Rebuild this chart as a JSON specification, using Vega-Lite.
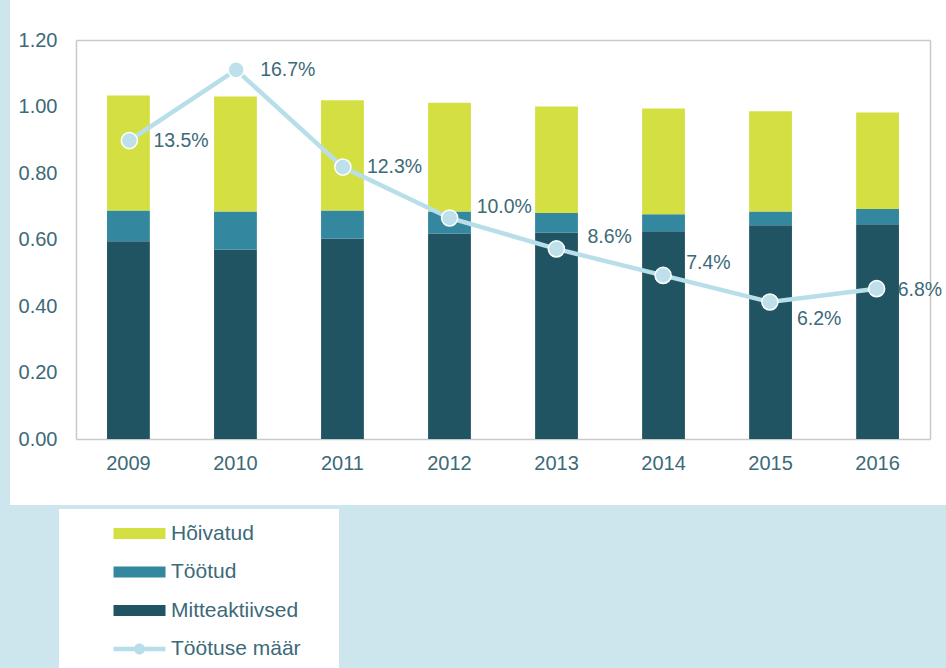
{
  "$schema": "https://vega.github.io/schema/vega-lite/v6.json",
  "width": 854,
  "height": 399,
  "autosize": {"type": "none"},
  "padding": {"left": 76, "top": 40, "right": 16, "bottom": 229},
  "background": "#cde6ed",
  "config": {
    "font": "Liberation Sans",
    "view": {"fill": "#ffffff", "stroke": "#ffffff", "strokeWidth": 132},
    "axis": {
      "labelFont": "Liberation Sans",
      "labelFontSize": 20,
      "labelColor": "#3c6a78",
      "ticks": false,
      "tickSize": 0,
      "grid": false,
      "domainColor": "#c9c9c9",
      "domainWidth": 1.5,
      "title": null
    }
  },
  "datasets": {
    "bars": [
      {"year": "2009", "series": "Mitteaktiivsed", "value": 0.595},
      {"year": "2009", "series": "Töötud", "value": 0.092},
      {"year": "2009", "series": "Hõivatud", "value": 0.346},
      {"year": "2010", "series": "Mitteaktiivsed", "value": 0.570},
      {"year": "2010", "series": "Töötud", "value": 0.114},
      {"year": "2010", "series": "Hõivatud", "value": 0.346},
      {"year": "2011", "series": "Mitteaktiivsed", "value": 0.603},
      {"year": "2011", "series": "Töötud", "value": 0.084},
      {"year": "2011", "series": "Hõivatud", "value": 0.332},
      {"year": "2012", "series": "Mitteaktiivsed", "value": 0.618},
      {"year": "2012", "series": "Töötud", "value": 0.066},
      {"year": "2012", "series": "Hõivatud", "value": 0.327},
      {"year": "2013", "series": "Mitteaktiivsed", "value": 0.621},
      {"year": "2013", "series": "Töötud", "value": 0.059},
      {"year": "2013", "series": "Hõivatud", "value": 0.320},
      {"year": "2014", "series": "Mitteaktiivsed", "value": 0.625},
      {"year": "2014", "series": "Töötud", "value": 0.051},
      {"year": "2014", "series": "Hõivatud", "value": 0.318},
      {"year": "2015", "series": "Mitteaktiivsed", "value": 0.643},
      {"year": "2015", "series": "Töötud", "value": 0.041},
      {"year": "2015", "series": "Hõivatud", "value": 0.302},
      {"year": "2016", "series": "Mitteaktiivsed", "value": 0.646},
      {"year": "2016", "series": "Töötud", "value": 0.046},
      {"year": "2016", "series": "Hõivatud", "value": 0.290}
    ],
    "rate": [
      {"year": "2009", "series": "Töötuse määr", "rate": 0.135},
      {"year": "2010", "series": "Töötuse määr", "rate": 0.167},
      {"year": "2011", "series": "Töötuse määr", "rate": 0.123},
      {"year": "2012", "series": "Töötuse määr", "rate": 0.100},
      {"year": "2013", "series": "Töötuse määr", "rate": 0.086},
      {"year": "2014", "series": "Töötuse määr", "rate": 0.074},
      {"year": "2015", "series": "Töötuse määr", "rate": 0.062},
      {"year": "2016", "series": "Töötuse määr", "rate": 0.068}
    ]
  },
  "layer": [
    {
      "data": {"name": "bars"},
      "transform": [
        {"calculate": "indexof(['Mitteaktiivsed','Töötud','Hõivatud'], datum.series)", "as": "ord"}
      ],
      "mark": {"type": "bar"},
      "encoding": {
        "x": {
          "field": "year",
          "type": "nominal",
          "scale": {"paddingInner": 0.6, "paddingOuter": 0.29},
          "axis": {"orient": "bottom", "labelAngle": 0, "labelPadding": 14}
        },
        "y": {
          "field": "value",
          "type": "quantitative",
          "stack": "zero",
          "scale": {"domain": [0, 1.2], "nice": false},
          "axis": {"orient": "left", "values": [0, 0.2, 0.4, 0.6, 0.8, 1, 1.2], "format": ".2f", "labelPadding": 19}
        },
        "color": {
          "field": "series",
          "type": "nominal",
          "scale": {
            "domain": ["Hõivatud", "Töötud", "Mitteaktiivsed", "Töötuse määr"],
            "range": ["#d4e042", "#33879e", "#215463", "#b8dfe9"]
          },
          "legend": {
            "orient": "none",
            "legendX": -17,
            "legendY": 469,
            "title": "\u00a0",
            "titleOrient": "right",
            "titleFontSize": 1,
            "titlePadding": 24,
            "fillColor": "#ffffff",
            "padding": 14,
            "symbolSize": 400,
            "symbolStrokeWidth": 0,
            "labelOffset": 77,
            "rowPadding": 16.5,
            "labelFont": "Liberation Sans",
            "labelFontSize": 21,
            "labelColor": "#3c6a78",
            "encode": {
              "symbols": {
                "update": {
                  "shape": {"signal": "datum.value === 'Töötuse määr' ? 'M3,-0.22H8.2V0.22H3Z M5.05,0A0.55,0.55 0 1,1 6.15,0A0.55,0.55 0 1,1 5.05,0Z' : 'M3,-0.55H8.2V0.55H3Z'"},
                  "fill": {"signal": "scale('color', datum.value)"},
                  "stroke": {"value": "transparent"},
                  "opacity": {"value": 1},
                  "fillOpacity": {"value": 1}
                }
              }
            }
          }
        },
        "order": {"field": "ord", "type": "quantitative"}
      }
    },
    {
      "data": {"name": "rate"},
      "encoding": {
        "x": {
          "field": "year",
          "type": "nominal",
          "scale": {"paddingInner": 0.6, "paddingOuter": 0.29},
          "axis": {"orient": "top", "labels": false}
        },
        "y": {
          "field": "rate",
          "type": "quantitative",
          "scale": {"domain": [0, 0.1805], "nice": false},
          "axis": {"orient": "right", "labels": false}
        }
      },
      "layer": [
        {
          "mark": {"type": "line", "strokeWidth": 4.5},
          "encoding": {"color": {"field": "series", "type": "nominal"}}
        },
        {
          "transform": [{"filter": {"field": "year", "oneOf": ["2009", "2010", "2011"]}}],
          "mark": {"type": "text", "align": "left", "baseline": "middle", "dx": 24, "dy": 0, "fontSize": 19.5, "color": "#3c6a78"},
          "encoding": {"text": {"field": "rate", "format": ".1%"}}
        },
        {
          "transform": [{"filter": {"field": "year", "equal": "2012"}}],
          "mark": {"type": "text", "align": "left", "baseline": "middle", "dx": 27, "dy": -11, "fontSize": 19.5, "color": "#3c6a78"},
          "encoding": {"text": {"field": "rate", "format": ".1%"}}
        },
        {
          "transform": [{"filter": {"field": "year", "equal": "2013"}}],
          "mark": {"type": "text", "align": "left", "baseline": "middle", "dx": 31, "dy": -12, "fontSize": 19.5, "color": "#3c6a78"},
          "encoding": {"text": {"field": "rate", "format": ".1%"}}
        },
        {
          "transform": [{"filter": {"field": "year", "equal": "2014"}}],
          "mark": {"type": "text", "align": "left", "baseline": "middle", "dx": 23, "dy": -12, "fontSize": 19.5, "color": "#3c6a78"},
          "encoding": {"text": {"field": "rate", "format": ".1%"}}
        },
        {
          "transform": [{"filter": {"field": "year", "equal": "2015"}}],
          "mark": {"type": "text", "align": "left", "baseline": "middle", "dx": 27, "dy": 17, "fontSize": 19.5, "color": "#3c6a78"},
          "encoding": {"text": {"field": "rate", "format": ".1%"}}
        },
        {
          "transform": [{"filter": {"field": "year", "equal": "2016"}}],
          "mark": {"type": "text", "align": "left", "baseline": "middle", "dx": 21, "dy": 1, "fontSize": 19.5, "color": "#3c6a78"},
          "encoding": {"text": {"field": "rate", "format": ".1%"}}
        },
        {
          "mark": {"type": "point", "filled": true, "shape": "circle", "size": 260, "fill": "#bde0ea", "stroke": "#ffffff", "strokeWidth": 1.5, "opacity": 1}
        }
      ]
    }
  ],
  "resolve": {"scale": {"x": "independent", "y": "independent"}}
}
